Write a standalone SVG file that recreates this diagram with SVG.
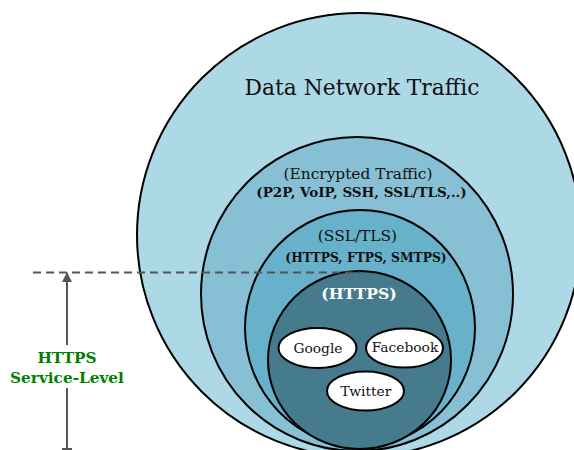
<svg xmlns="http://www.w3.org/2000/svg" width="574" height="450" viewBox="0 0 574 450">
<defs>
<style>
.ring{stroke:#000;stroke-width:2}
.t{font-family:"DejaVu Serif","Liberation Serif",serif;text-anchor:middle;fill:#111}
.b{font-weight:bold}
.leaf{fill:#fff;stroke:#000;stroke-width:2}
</style>
<marker id="ah" viewBox="0 0 10 10" refX="9" refY="5" markerWidth="5" markerHeight="5" orient="auto-start-reverse" markerUnits="strokeWidth">
<path d="M0,0 L10,5 L0,10 z" fill="#555"/>
</marker>
</defs>
<rect width="574" height="450" fill="#fff"/>
<g id="data-network">
<circle class="ring" cx="359" cy="235" r="222" fill="#add8e6"/>
<text class="t" x="362" y="95" font-size="21.8">Data Network Traffic</text>
</g>
<g id="encrypted">
<ellipse class="ring" cx="357" cy="294" rx="156" ry="157" fill="#87c0d5"/>
<text class="t" x="358" y="179" font-size="15.4">(Encrypted Traffic)</text>
<text class="t b" x="361.5" y="197" font-size="13.5">(P2P, VoIP, SSH, SSL/TLS,..)</text>
</g>
<g id="ssl">
<ellipse class="ring" cx="360" cy="328" rx="115" ry="118" fill="#67b1cb"/>
<text class="t" x="357.5" y="241" font-size="15.4">(SSL/TLS)</text>
<text class="t b" x="366" y="262" font-size="12.3">(HTTPS, FTPS, SMTPS)</text>
</g>
<g id="https">
<ellipse class="ring" cx="359.5" cy="360" rx="91.5" ry="89" fill="#457b8c"/>
<text class="t b" x="359" y="299" font-size="15.7" style="fill:#fff">(HTTPS)</text>
</g>
<g id="google">
<ellipse class="leaf" cx="317.5" cy="348" rx="39" ry="20"/>
<text class="t" x="318" y="352.5" font-size="13.8">Google</text>
</g>
<g id="facebook">
<ellipse class="leaf" cx="404.5" cy="348" rx="38.5" ry="19.5"/>
<text class="t" x="405" y="352" font-size="13.8">Facebook</text>
</g>
<g id="twitter">
<ellipse class="leaf" cx="365.5" cy="391" rx="38.5" ry="19.5"/>
<text class="t" x="366" y="395.5" font-size="13.8">Twitter</text>
</g>
<g id="connectors" fill="none" stroke="#555" stroke-width="2">
<line x1="33" y1="272.5" x2="360" y2="272.5" stroke-dasharray="8,5"/>
<line x1="67" y1="345" x2="67" y2="273" marker-end="url(#ah)"/>
<line x1="67" y1="388" x2="67" y2="449"/>
<line x1="62" y1="449" x2="72" y2="449"/>
</g>
<g id="service-level">
<text class="t b" x="67" y="363" font-size="15.3" style="fill:#008000">HTTPS</text>
<text class="t b" x="67" y="383" font-size="15.3" style="fill:#008000">Service-Level</text>
</g>
</svg>
